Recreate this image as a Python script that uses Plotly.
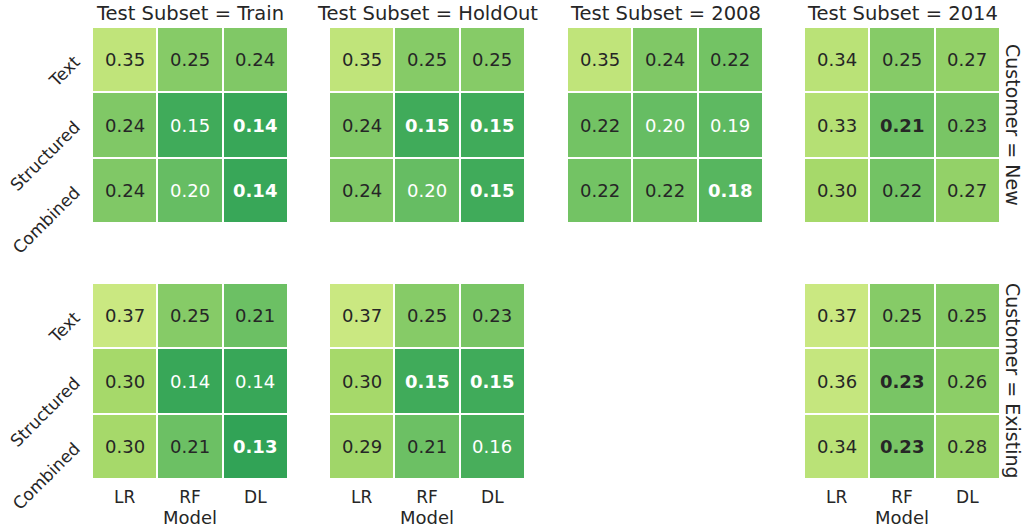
import plotly.graph_objects as go

models = ["LR", "RF", "DL"]
features = ["Text", "Structured", "Combined"]
subsets = ["Train", "HoldOut", "2008", "2014"]
customers = ["New", "Existing"]

new_train = [[0.35, 0.25, 0.24], [0.24, 0.15, 0.14], [0.24, 0.20, 0.14]]
new_holdout = [[0.35, 0.25, 0.25], [0.24, 0.15, 0.15], [0.24, 0.20, 0.15]]
new_2008 = [[0.35, 0.24, 0.22], [0.22, 0.20, 0.19], [0.22, 0.22, 0.18]]
new_2014 = [[0.34, 0.25, 0.27], [0.33, 0.21, 0.23], [0.30, 0.22, 0.27]]
existing_train = [[0.37, 0.25, 0.21], [0.30, 0.14, 0.14], [0.30, 0.21, 0.13]]
existing_holdout = [[0.37, 0.25, 0.23], [0.30, 0.15, 0.15], [0.29, 0.21, 0.16]]
existing_2008 = None
existing_2014 = [[0.37, 0.25, 0.25], [0.36, 0.23, 0.26], [0.34, 0.23, 0.28]]

grid = [
    [new_train, new_holdout, new_2008, new_2014],
    [existing_train, existing_holdout, existing_2008, existing_2014],
]

# RdYlGn reversed, vmin=0, vmax=1
rdylgn = ["#a50026", "#d73027", "#f46d43", "#fdae61", "#fee08b", "#ffffbf",
          "#d9ef8b", "#a6d96a", "#66bd63", "#1a9850", "#006837"]
cscale = [[i / 10, c] for i, c in enumerate(reversed(rdylgn))]

W, H = 1025, 529
xdom_px = [(92, 288), (329, 525), (567, 763), (804, 1000)]
ydom_px = [(27, 223), (283, 479)]
FONT = "DejaVu Sans"
DARK = "#262626"

fig = go.Figure()
annotations = []
layout = {}
k = 0
for r in range(2):
    for c in range(4):
        k += 1
        xa = "xaxis" if k == 1 else f"xaxis{k}"
        ya = "yaxis" if k == 1 else f"yaxis{k}"
        xr = "x" if k == 1 else f"x{k}"
        yr = "y" if k == 1 else f"y{k}"
        x0, x1 = xdom_px[c]
        y0, y1 = ydom_px[r]
        xd = [x0 / W, x1 / W]
        yd = [1 - y1 / H, 1 - y0 / H]
        z = grid[r][c]
        visible = z is not None
        show_x = visible and r == 1
        layout[xa] = dict(domain=xd, anchor=yr, type="category",
                          categoryorder="array", categoryarray=models,
                          showgrid=False, zeroline=False, showline=False,
                          ticks="", showticklabels=show_x, visible=visible,
                          automargin=False,
                          tickfont=dict(family=FONT, size=17, color=DARK),
                          title=dict(text="Model" if show_x else "",
                                     font=dict(family=FONT, size=18, color=DARK),
                                     standoff=2),
                          ticklabelstandoff=6)
        layout[ya] = dict(domain=yd, anchor=xr, type="category",
                          categoryorder="array", categoryarray=features,
                          autorange="reversed", automargin=False,
                          showgrid=False, zeroline=False, showline=False,
                          ticks="", showticklabels=(visible and c == 0),
                          visible=visible, tickangle=-45,
                          tickfont=dict(family=FONT, size=17, color=DARK),
                          ticklabelstandoff=16)
        if not visible:
            continue
        fig.add_trace(go.Heatmap(
            z=z, x=models, y=features, xaxis=xr, yaxis=yr,
            colorscale=cscale, zmin=0, zmax=1, showscale=False,
            xgap=2, ygap=2, hoverinfo="skip"))
        zmin = min(min(row) for row in z)
        for i, feat in enumerate(features):
            for j, m in enumerate(models):
                v = z[i][j]
                txt = f"{v:.2f}"
                if v == zmin:
                    txt = f"<b>{txt}</b>"
                col = "white" if v <= 0.205 else DARK
                annotations.append(dict(
                    x=m, y=feat, xref=xr, yref=yr, text=txt, showarrow=False,
                    font=dict(family=FONT, size=18, color=col)))
        if r == 0:
            annotations.append(dict(
                x=(xd[0] + xd[1]) / 2, y=yd[1], xref="paper", yref="paper",
                text=f"Test Subset = {subsets[c]}", showarrow=False,
                xanchor="center", yanchor="bottom", yshift=0,
                font=dict(family=FONT, size=19.5, color=DARK)))
    annotations.append(dict(
        x=1013 / W, y=1 - (ydom_px[r][0] + ydom_px[r][1]) / 2 / H,
        xref="paper", yref="paper", text=f"Customer = {customers[r]}",
        showarrow=False, textangle=90, xanchor="center", yanchor="middle",
        font=dict(family=FONT, size=19, color=DARK)))

fig.update_layout(**layout)
fig.update_layout(
    width=W, height=H, margin=dict(l=0, r=0, t=0, b=0, autoexpand=False),
    paper_bgcolor="white", plot_bgcolor="white",
    annotations=annotations, showlegend=False,
    font=dict(family=FONT, color=DARK))

fig.write_html("out.html",
               config={"displayModeBar": False},
               post_script="document.body.style.margin='0px';"
                           "document.body.style.overflow='hidden';")
